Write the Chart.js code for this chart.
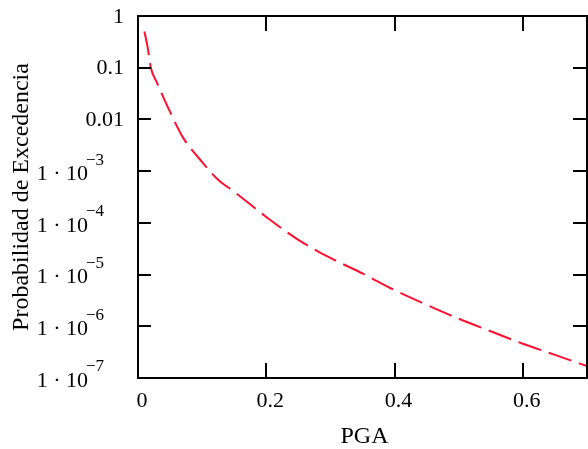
<!DOCTYPE html>
<html>
<head>
<meta charset="utf-8">
<script src="https://cdn.jsdelivr.net/npm/chart.js@4.4.1/dist/chart.umd.min.js"></script>
<style>
  html, body { margin: 0; padding: 0; background: #fff; }
  #wrap { width: 588px; height: 449px; position: relative; }
</style>
</head>
<body>
<div id="wrap"><canvas id="c" width="588" height="449"></canvas></div>
<script>
// ---- data ----
const pgaValues  = [0.01, 0.015, 0.02, 0.03, 0.05, 0.07, 0.10, 0.125, 0.15, 0.20, 0.25, 0.30, 0.35, 0.40, 0.45, 0.50, 0.55, 0.60, 0.65, 0.70];
const probValues = [0.5, 0.25, 0.1, 0.05, 0.014, 0.0045, 1.5e-3, 6.8e-4, 4.0e-4, 1.3e-4, 4.7e-5, 2.1e-5, 1.05e-5, 5.0e-6, 2.6e-6, 1.4e-6, 8.0e-7, 4.6e-7, 2.8e-7, 1.7e-7];
const xTickValues = [0, 0.2, 0.4, 0.6];
const xTickLabels = ['0', '0.2', '0.4', '0.6'];
const yTickValues = [1, 0.1, 0.01, 1e-3, 1e-4, 1e-5, 1e-6, 1e-7];
const yTickBase   = ['1', '0.1', '0.01', '1 · 10', '1 · 10', '1 · 10', '1 · 10', '1 · 10'];
const yTickExp    = ['', '', '', '−3', '−4', '−5', '−6', '−7'];
const xTitle = 'PGA';
const yTitle = 'Probabilidad de Excedencia';

const FONT = '"Liberation Serif", "DejaVu Serif", serif';

const framePlugin = {
  id: 'frame',
  afterDraw(chart) {
    const ctx = chart.ctx;
    const a = chart.chartArea;
    const xs = chart.scales.x, ys = chart.scales.y;
    ctx.save();
    ctx.strokeStyle = '#000';
    ctx.lineWidth = 2;
    ctx.strokeRect(a.left, a.top, a.right - a.left, a.bottom - a.top);
    // inward ticks
    ctx.beginPath();
    xTickValues.forEach(v => {
      const px = Math.round(xs.getPixelForValue(v));
      if (px <= a.left + 1) return;
      ctx.moveTo(px, a.bottom); ctx.lineTo(px, a.bottom - 15);
      ctx.moveTo(px, a.top); ctx.lineTo(px, a.top + 15);
    });
    yTickValues.forEach(v => {
      const py = Math.round(ys.getPixelForValue(v));
      if (py <= a.top + 1 || py >= a.bottom - 1) return;
      ctx.moveTo(a.left, py); ctx.lineTo(a.left + 13, py);
      ctx.moveTo(a.right, py); ctx.lineTo(a.right - 14, py);
    });
    ctx.stroke();

    ctx.fillStyle = '#000';
    // x tick labels
    ctx.font = '22px ' + FONT;
    ctx.textAlign = 'center';
    ctx.textBaseline = 'middle';
    xTickValues.forEach((v, i) => {
      const px = xs.getPixelForValue(v);
      ctx.fillText(xTickLabels[i], px + 4, 401);
    });
    // y tick labels
    yTickValues.forEach((v, i) => {
      const py = ys.getPixelForValue(v);
      ctx.textBaseline = 'middle';
      if (!yTickExp[i]) {
        ctx.font = '22px ' + FONT;
        ctx.textAlign = 'right';
        ctx.fillText(yTickBase[i], 124, py + 1);
      } else {
        ctx.font = '22px ' + FONT;
        ctx.textAlign = 'right';
        ctx.fillText(yTickBase[i], 88, py + 3);
        ctx.font = '17px ' + FONT;
        ctx.textAlign = 'left';
        ctx.fillText(yTickExp[i], 86, py - 11);
      }
    });
    // axis titles
    ctx.font = '24px ' + FONT;
    ctx.textAlign = 'center';
    ctx.textBaseline = 'middle';
    ctx.fillText(xTitle, (a.left + a.right) / 2 + 2, 437);
    ctx.save();
    ctx.translate(22, (a.top + a.bottom) / 2);
    ctx.rotate(-Math.PI / 2);
    ctx.fillText(yTitle, 0, 0);
    ctx.restore();
    ctx.restore();
  }
};

new Chart(document.getElementById('c'), {
  type: 'line',
  data: {
    datasets: [{
      data: pgaValues.map((x, i) => ({ x: x, y: probValues[i] })),
      borderColor: '#ff1030',
      borderWidth: 2,
      borderDash: [24, 8],
      pointRadius: 0,
      cubicInterpolationMode: 'monotone',
      fill: false
    }]
  },
  options: {
    responsive: false,
    animation: false,
    devicePixelRatio: 1,
    layout: { padding: { left: 0, right: 1, top: 16, bottom: 0 } },
    plugins: { legend: { display: false }, tooltip: { enabled: false } },
    scales: {
      x: {
        type: 'linear', min: 0, max: 0.7,
        grid: { display: false }, border: { display: false },
        ticks: { display: false },
        afterFit(s) { s.height = 449 - 378; }
      },
      y: {
        type: 'logarithmic', min: 1e-7, max: 1,
        grid: { display: false }, border: { display: false },
        ticks: { display: false },
        afterFit(s) { s.width = 138; }
      }
    }
  },
  plugins: [framePlugin]
});
</script>
</body>
</html>
